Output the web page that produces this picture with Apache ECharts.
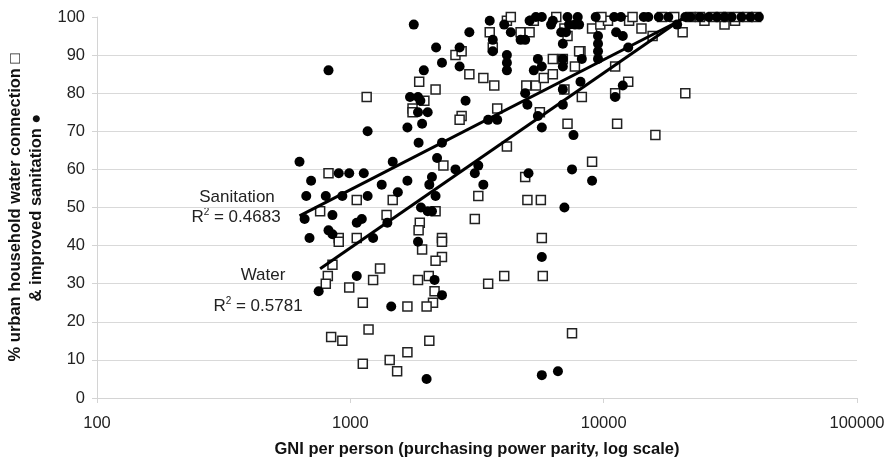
<!DOCTYPE html>
<html>
<head>
<meta charset="utf-8">
<script src="https://cdn.jsdelivr.net/npm/echarts@6/dist/echarts.min.js"></script>
<style>
  html, body { margin: 0; padding: 0; background: #fff; }
  #chart { width: 885px; height: 465px; }
</style>
</head>
<body>
<div id="chart"></div>
<script>
// GNI per person (PPP) vs % urban households with improved sanitation (filled dots)
const sanitation = [
  [630, 62], [700, 57], [670, 53], [800, 53], [930, 53], [900, 59], [990, 59], [1130, 59],
  [1170, 53], [1330, 56], [1470, 62], [1680, 57], [1540, 54], [2200, 63], [2100, 58], [2050, 56],
  [2170, 53], [2600, 60], [3200, 61], [3100, 59], [3350, 56], [5050, 59], [7500, 60], [7000, 50],
  [660, 47], [850, 48], [1060, 46], [1110, 47], [1400, 46], [1900, 50], [2020, 49], [2100, 49],
  [820, 44], [850, 43], [690, 42], [1230, 42], [1850, 41], [750, 28], [1060, 32], [1450, 24],
  [2150, 31], [2300, 27], [2000, 5], [5700, 37], [5700, 6], [6600, 7], [9000, 57], [7600, 69],
  [820, 86], [1170, 70], [1720, 79], [1850, 79], [1890, 78], [2850, 78], [1850, 75], [2020, 75],
  [1680, 71], [1920, 72], [1860, 67], [2300, 67], [3500, 73], [3800, 73], [5000, 77], [4900, 80],
  [6900, 81], [5500, 74], [5700, 71], [6900, 77], [8100, 83], [11100, 79], [11900, 82],
  [1780, 98], [2950, 96], [2180, 92], [2700, 92], [2300, 88], [2700, 87], [1950, 86], [3550, 99],
  [4050, 98], [4300, 96], [3650, 94], [3650, 91], [4150, 90], [4150, 88], [4150, 86], [4700, 94],
  [4900, 94], [5100, 99], [5400, 100], [5700, 100], [6200, 98], [6800, 96], [7100, 96], [7300, 98],
  [7700, 98], [7900, 100], [8000, 98], [5500, 89], [5700, 87], [5300, 86], [6900, 93], [6900, 89],
  [6900, 87], [8200, 89], [9300, 100], [9500, 95], [9500, 93], [9500, 91], [9500, 89], [11000, 100],
  [11700, 100], [11200, 96], [11900, 95], [12500, 92], [14400, 100], [15000, 100], [16500, 100],
  [18000, 100], [19500, 98], [21000, 100], [22000, 100], [24000, 100], [26000, 100], [28000, 100],
  [30000, 100], [32000, 100], [35000, 100], [38000, 100], [41000, 100], [6300, 99], [7200, 100]
];

// % urban households with a household water connection (open squares)
const water = [
  [4150, 99], [3550, 96], [4700, 96], [5100, 96], [3650, 92], [2600, 90], [2750, 91], [2950, 85],
  [3350, 84], [3700, 82], [1870, 83], [2170, 81], [1160, 79], [1960, 78], [1760, 76], [1760, 75],
  [4950, 82], [5400, 82], [5800, 84], [6300, 85], [6300, 89], [6900, 89], [3800, 76], [5600, 75],
  [2750, 74], [2700, 73], [7200, 72], [4150, 66], [2330, 61], [820, 59], [4900, 58], [3200, 53],
  [1060, 52], [1470, 52], [5000, 52], [5650, 52], [760, 49], [1390, 48], [2170, 49], [3100, 47],
  [1880, 46], [1860, 44], [900, 42], [1060, 42], [2300, 42], [5700, 42], [900, 41], [2300, 41],
  [1920, 39], [2300, 37], [2170, 36], [850, 35], [815, 32], [800, 30], [1310, 34], [990, 29],
  [1230, 31], [1850, 31], [2040, 32], [2150, 28], [2120, 25], [2000, 24], [1120, 25], [1680, 24],
  [3500, 30], [4050, 32], [5750, 32], [1180, 18], [840, 16], [930, 15], [2050, 15], [1680, 12],
  [1430, 10], [1530, 7], [1120, 9], [7500, 17], [16000, 69], [9000, 62], [21000, 80], [12500, 83],
  [11100, 80], [8200, 79], [11300, 72], [11100, 87], [7700, 87], [8100, 91], [7200, 95], [7000, 97],
  [9000, 97], [9700, 98], [10400, 99], [12600, 99], [14100, 97], [15600, 95], [20500, 96],
  [25000, 99], [30000, 98], [33000, 99], [5300, 99], [8000, 91], [7000, 81],
  [4300, 100], [6500, 100], [9800, 100], [13000, 100], [17000, 100], [19000, 100], [22000, 100],
  [24000, 100], [27000, 100], [29000, 100], [31000, 100], [34000, 100], [37000, 100], [40000, 100]
];

// log-linear trend lines (start / end of each fit)
const sanitationTrend = [[630, 47.8], [21300, 100]];
const waterTrend = [[760, 33.9], [20900, 100]];

const xTicks = [100, 1000, 10000, 100000];
const yTicks = [0, 10, 20, 30, 40, 50, 60, 70, 80, 90, 100];

const font = "'Liberation Sans', Arial, sans-serif";
const chart = echarts.init(document.getElementById("chart"));

chart.setOption({
  animation: false,
  backgroundColor: "#fff",
  textStyle: { fontFamily: font },
  grid: { left: 97, right: 28, top: 17, bottom: 67, outerBoundsMode: "none", containLabel: false },
  xAxis: {
    type: "log",
    logBase: 10,
    min: xTicks[0],
    max: xTicks[xTicks.length - 1],
    name: "GNI per person (purchasing power parity, log scale)",
    nameLocation: "middle",
    nameGap: 43,
    nameTextStyle: { fontFamily: font, fontSize: 16.5, fontWeight: "bold", color: "#111" },
    axisLine: { show: true, lineStyle: { color: "#d4d4d4", width: 1 } },
    axisTick: { show: true, length: 5, lineStyle: { color: "#d4d4d4" } },
    axisLabel: {
      fontFamily: font, fontSize: 16.5, color: "#222", margin: 17,
      formatter: (v) => String(Math.round(v))
    },
    splitLine: { show: false },
    minorTick: { show: false }
  },
  yAxis: {
    type: "value",
    min: yTicks[0],
    max: yTicks[yTicks.length - 1],
    interval: 10,
    name: "% urban household water connection \u25a1\n& improved sanitation \u25cf",
    nameLocation: "middle",
    nameRotate: 90,
    nameGap: 50,
    nameTextStyle: {
      fontFamily: font, fontSize: 16.5, fontWeight: "bold", color: "#111",
      lineHeight: 21, align: "center"
    },
    axisLine: { show: true, lineStyle: { color: "#d4d4d4", width: 1 } },
    axisTick: { show: true, length: 5, lineStyle: { color: "#d4d4d4" } },
    axisLabel: { fontFamily: font, fontSize: 16.5, color: "#222", margin: 12 },
    splitLine: {
      show: true,
      lineStyle: {
        color: ["#d9d9d9", "#d9d9d9", "#d9d9d9", "#d9d9d9", "#d9d9d9", "#d9d9d9",
                "#d9d9d9", "#d9d9d9", "#d9d9d9", "#d9d9d9", "rgba(0,0,0,0)"],
        width: 1
      }
    }
  },
  series: [
    {
      name: "Water",
      type: "scatter",
      symbol: "rect",
      symbolSize: 9,
      data: water,
      itemStyle: { color: "#fff", borderColor: "#222", borderWidth: 1.5, opacity: 1 },
      z: 2
    },
    {
      name: "Sanitation",
      type: "scatter",
      symbol: "circle",
      symbolSize: 10,
      data: sanitation,
      itemStyle: { color: "#000", opacity: 1 },
      z: 3
    },
    {
      name: "Sanitation trend",
      type: "line",
      data: sanitationTrend,
      symbol: "none",
      lineStyle: { color: "#000", width: 3 },
      z: 4
    },
    {
      name: "Water trend",
      type: "line",
      data: waterTrend,
      symbol: "none",
      lineStyle: { color: "#000", width: 3 },
      z: 4
    }
  ],
  graphic: [
    { type: "text", x: 237, y: 197, style: { text: "Sanitation", font: "17px " + font, fill: "#222", align: "center", verticalAlign: "middle" } },
    { type: "text", x: 236, y: 217, style: { text: "R{s|2} = 0.4683", font: "17px " + font, fill: "#222", align: "center", verticalAlign: "middle",
      rich: { s: { fontSize: 10, verticalAlign: "top", padding: [0, 0, 10, 0] } } } },
    { type: "text", x: 263, y: 275, style: { text: "Water", font: "17px " + font, fill: "#222", align: "center", verticalAlign: "middle" } },
    { type: "text", x: 258, y: 306, style: { text: "R{s|2} = 0.5781", font: "17px " + font, fill: "#222", align: "center", verticalAlign: "middle",
      rich: { s: { fontSize: 10, verticalAlign: "top", padding: [0, 0, 10, 0] } } } }
  ]
});
</script>
</body>
</html>
